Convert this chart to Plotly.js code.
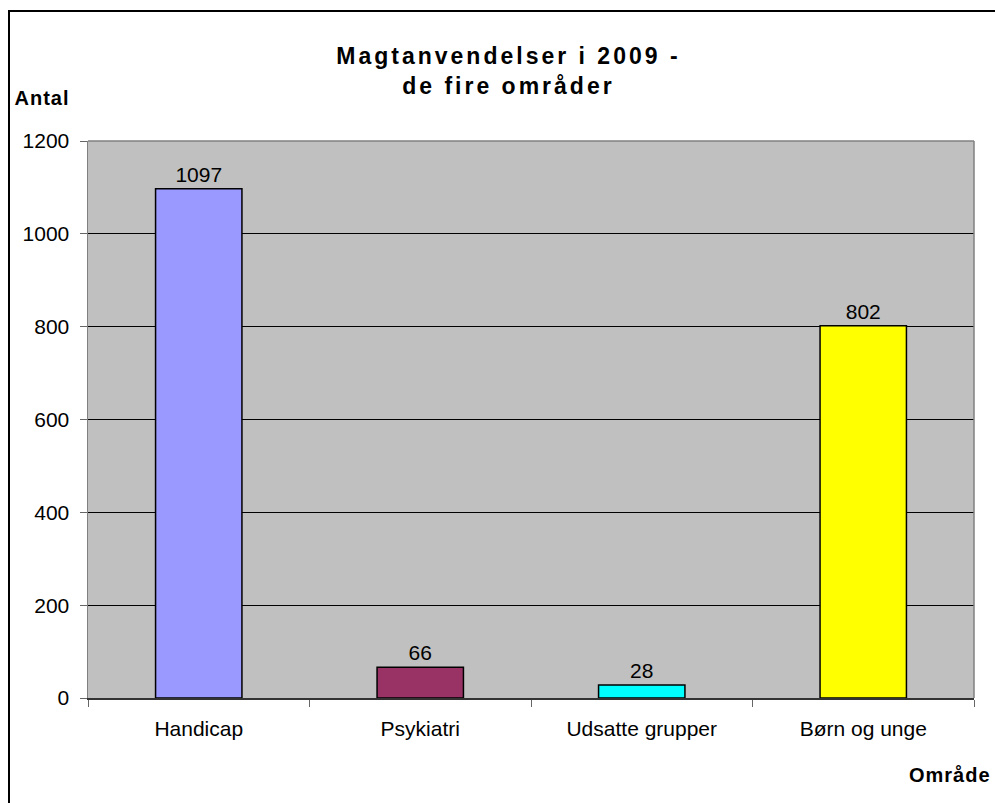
<!DOCTYPE html>
<html>
<head>
<meta charset="utf-8">
<script src="https://cdn.plot.ly/plotly-3.0.1.min.js"></script>
<style>
html,body{margin:0;padding:0;background:#fff;overflow:hidden;}
#frame{position:absolute;left:8px;top:10px;width:1000px;height:900px;border-left:2px solid #000;border-top:2px solid #000;pointer-events:none;z-index:5;}
#chart{position:absolute;left:0;top:0;width:995px;height:803px;}
#chart .gtitle{letter-spacing:3px;}
#chart .annotation-text{letter-spacing:1px;}
</style>
</head>
<body>
<div id="chart"></div>
<div id="frame"></div>
<script>
const categories = ["Handicap", "Psykiatri", "Udsatte grupper", "Børn og unge"];
const values = [1097, 66, 28, 802];
const barColors = ["#9999FF", "#993366", "#00FFFF", "#FFFF00"];
const yTicks = [0, 200, 400, 600, 800, 1000, 1200];

const font = "Liberation Sans, Arial, sans-serif";

const trace = {
  type: "bar",
  x: categories,
  y: values,
  marker: {color: barColors, line: {color: "#000", width: 1.5}},
  text: values.map(String),
  textposition: "outside",
  cliponaxis: false,
  textfont: {family: font, size: 21, color: "#000"},
  hoverinfo: "x+y"
};

const layout = {
  width: 995, height: 803,
  margin: {l: 88, r: 21, t: 141, b: 105},
  paper_bgcolor: "#fff",
  plot_bgcolor: "#C0C0C0",
  showlegend: false,
  bargap: 0.61,
  font: {family: font, size: 21, color: "#000"},
  title: {
    text: "<b>Magtanvendelser i 2009 -<br>de fire områder</b>",
    x: 0.511, xanchor: "center", y: 0.9203, yanchor: "middle",
    font: {family: font, size: 23, color: "#000"}
  },
  xaxis: {
    type: "category",
    tickson: "boundaries",
    ticks: "outside", ticklen: 7, tickcolor: "#666", tickwidth: 1,
    ticklabelstandoff: 11,
    showline: true, linecolor: "#333", linewidth: 1.5,
    tickfont: {family: font, size: 21, color: "#000"},
    fixedrange: true
  },
  yaxis: {
    range: [0, 1200],
    tickvals: yTicks,
    ticks: "outside", ticklen: 7, tickcolor: "#666", tickwidth: 1,
    ticklabelstandoff: 6,
    showgrid: true, gridcolor: "#000", gridwidth: 1,
    showline: true, linecolor: "#808080", linewidth: 1.5,
    zeroline: false,
    tickfont: {family: font, size: 21, color: "#000"},
    fixedrange: true
  },
  shapes: [
    {type: "line", xref: "paper", yref: "paper", x0: 1, x1: 1, y0: 0, y1: 1, line: {color: "#808080", width: 1.5}},
    {type: "line", xref: "paper", yref: "paper", x0: 0, x1: 1, y0: 1, y1: 1, line: {color: "#808080", width: 1.5}}
  ],
  annotations: [
    {text: "<b>Antal</b>", xref: "paper", yref: "paper", x: -0.082, y: 1.077, xanchor: "left", yanchor: "middle", showarrow: false, font: {family: font, size: 20, color: "#000"}},
    {text: "<b>Område</b>", xref: "paper", yref: "paper", x: 1.018, y: -0.138, xanchor: "right", yanchor: "middle", showarrow: false, font: {family: font, size: 20, color: "#000"}}
  ]
};

Plotly.newPlot("chart", [trace], layout, {displayModeBar: false, staticPlot: true});
</script>
</body>
</html>
